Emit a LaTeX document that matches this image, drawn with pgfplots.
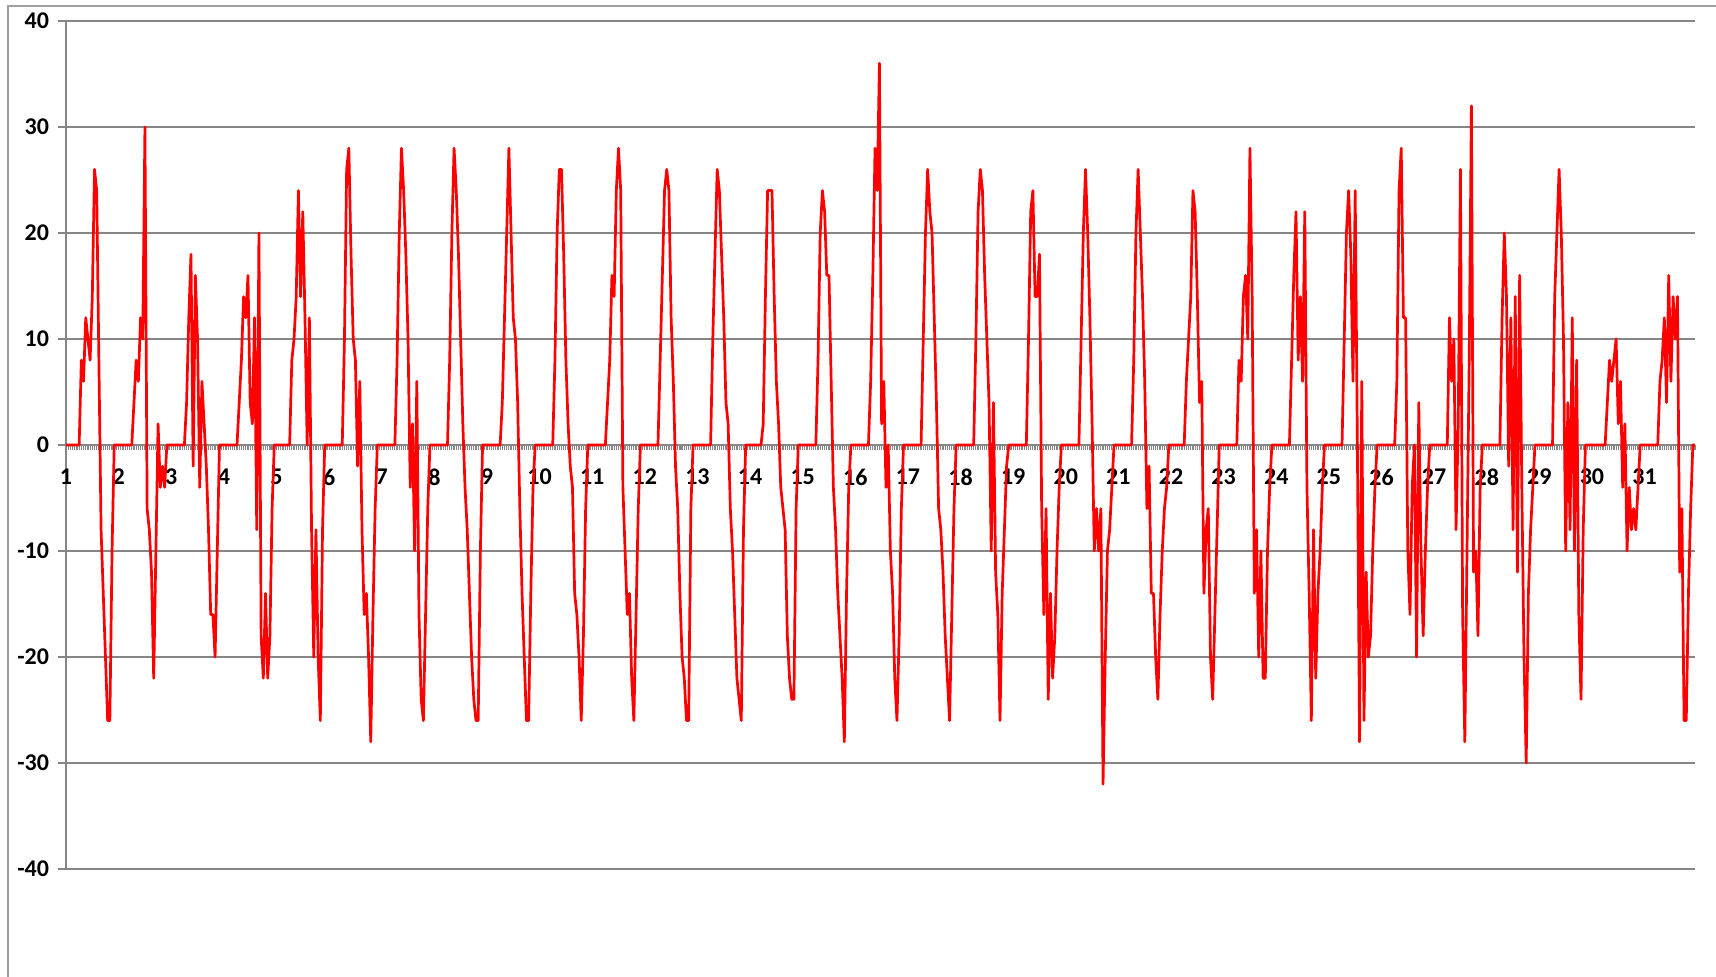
\documentclass[border=0pt]{standalone}
\usepackage{pgfplots}
\pgfplotsset{compat=1.18}
\usepackage{fontspec}
\setmainfont{Carlito}
\definecolor{gridgray}{RGB}{134,134,134}
\definecolor{seriesred}{RGB}{255,0,0}

\begin{document}
\begin{tikzpicture}
\path[use as bounding box] (0,0) rectangle (858pt,488.5pt);
% chart area frame
\draw[gridgray!80, line width=0.8pt] (4pt,0) -- (4pt,485.5pt) -- (860pt,485.5pt);
\begin{axis}[
  at={(33pt,54pt)}, anchor=south west,
  scale only axis, width=814.5pt, height=424pt,
  xmin=0, xmax=743, ymin=-40, ymax=40,
  enlargelimits=false, clip=false,
  axis x line=middle, axis y line=left,
  axis line style={-, draw=gridgray, line width=1pt},
  hide obscured x ticks=false, hide obscured y ticks=false,
  xtick={0,24,...,720},
  xticklabels={1,2,3,4,5,6,7,8,9,10,11,12,13,14,15,16,17,18,19,20,21,22,23,24,25,26,27,28,29,30,31},
  xtick style={draw=none},
  minor xtick={0,1,...,743},
  minor x tick style={draw=gridgray, line width=0.6pt},
  minor tick length=2.6pt,
  xtick align=outside, ytick align=outside,
  ytick={-40,-30,...,40},
  yticklabels={-40,-30,-20,-10,0,10,20,30,40},
  ytick style={draw=gridgray, line width=1pt},
  major tick length=4pt,
  ymajorgrids, grid style={gridgray, line width=1pt},
  ticklabel style={font=\bfseries\fontsize{12pt}{14pt}\selectfont, text=black},
  xticklabel style={yshift=-4.5pt},
  yticklabel style={xshift=-1pt},
]
\addplot[seriesred, line width=1.35pt, line join=round, mark=none]
  table[row sep=\\, x expr=\coordindex, y index=0] {
v\\
0\\0\\0\\0\\0\\0\\0\\8\\6\\12\\10\\8\\14\\26\\24\\8\\-8\\-14\\-20\\-26\\-26\\-10\\0\\0\\
0\\0\\0\\0\\0\\0\\0\\4\\8\\6\\12\\10\\30\\-6\\-8\\-12\\-22\\-10\\2\\-4\\-2\\-4\\0\\0\\
0\\0\\0\\0\\0\\0\\0\\4\\12\\18\\-2\\16\\10\\-4\\6\\2\\-2\\-8\\-16\\-16\\-20\\-10\\0\\0\\
0\\0\\0\\0\\0\\0\\0\\4\\8\\14\\12\\16\\4\\2\\12\\-8\\20\\-18\\-22\\-14\\-22\\-18\\-6\\0\\
0\\0\\0\\0\\0\\0\\0\\8\\10\\14\\24\\14\\22\\12\\0\\12\\-8\\-20\\-8\\-20\\-26\\-8\\0\\0\\
0\\0\\0\\0\\0\\0\\0\\10\\26\\28\\18\\10\\8\\-2\\6\\-8\\-16\\-14\\-20\\-28\\-16\\-6\\0\\0\\
0\\0\\0\\0\\0\\0\\0\\8\\20\\28\\24\\18\\10\\-4\\2\\-10\\6\\-16\\-24\\-26\\-16\\-6\\0\\0\\
0\\0\\0\\0\\0\\0\\0\\8\\20\\28\\24\\18\\10\\2\\-4\\-8\\-14\\-20\\-24\\-26\\-26\\-10\\0\\0\\
0\\0\\0\\0\\0\\0\\0\\4\\12\\20\\28\\20\\12\\10\\4\\-6\\-14\\-20\\-26\\-26\\-14\\-4\\0\\0\\
0\\0\\0\\0\\0\\0\\0\\8\\20\\26\\26\\18\\8\\2\\-2\\-4\\-14\\-16\\-20\\-26\\-18\\-6\\0\\0\\
0\\0\\0\\0\\0\\0\\0\\4\\8\\16\\14\\24\\28\\24\\-4\\-10\\-16\\-14\\-22\\-26\\-16\\-6\\0\\0\\
0\\0\\0\\0\\0\\0\\0\\8\\16\\24\\26\\24\\12\\6\\-2\\-6\\-14\\-20\\-22\\-26\\-26\\-6\\0\\0\\
0\\0\\0\\0\\0\\0\\0\\10\\18\\26\\24\\18\\12\\4\\2\\-6\\-10\\-16\\-22\\-24\\-26\\-8\\0\\0\\
0\\0\\0\\0\\0\\0\\2\\14\\24\\24\\24\\14\\6\\2\\-4\\-6\\-8\\-18\\-22\\-24\\-24\\-6\\0\\0\\
0\\0\\0\\0\\0\\0\\0\\8\\20\\24\\22\\16\\16\\6\\-4\\-8\\-14\\-18\\-22\\-28\\-14\\-4\\0\\0\\
0\\0\\0\\0\\0\\0\\0\\6\\16\\28\\24\\36\\2\\6\\-4\\0\\-10\\-14\\-22\\-26\\-18\\-6\\0\\0\\
0\\0\\0\\0\\0\\0\\0\\10\\20\\26\\22\\20\\12\\4\\-6\\-8\\-12\\-18\\-22\\-26\\-16\\-6\\0\\0\\
0\\0\\0\\0\\0\\0\\0\\10\\22\\26\\24\\16\\10\\4\\-10\\4\\-12\\-16\\-26\\-14\\-8\\-2\\0\\0\\
0\\0\\0\\0\\0\\0\\0\\10\\22\\24\\14\\14\\18\\-6\\-16\\-6\\-24\\-14\\-22\\-18\\-10\\-4\\0\\0\\
0\\0\\0\\0\\0\\0\\0\\10\\20\\26\\20\\12\\2\\-10\\-6\\-10\\-6\\-32\\-20\\-10\\-8\\-4\\0\\0\\
0\\0\\0\\0\\0\\0\\0\\8\\20\\26\\20\\14\\6\\-6\\-2\\-14\\-14\\-20\\-24\\-16\\-10\\-6\\-4\\0\\
0\\0\\0\\0\\0\\0\\0\\6\\10\\14\\24\\22\\14\\4\\6\\-14\\-8\\-6\\-20\\-24\\-16\\-8\\0\\0\\
0\\0\\0\\0\\0\\0\\0\\8\\6\\14\\16\\10\\28\\14\\-14\\-8\\-20\\-10\\-22\\-22\\-10\\-4\\0\\0\\
0\\0\\0\\0\\0\\0\\0\\8\\16\\22\\8\\14\\6\\22\\-4\\-14\\-26\\-8\\-22\\-14\\-10\\-4\\0\\0\\
0\\0\\0\\0\\0\\0\\0\\10\\20\\24\\18\\6\\24\\0\\-28\\6\\-26\\-12\\-20\\-18\\-10\\-4\\0\\0\\
0\\0\\0\\0\\0\\0\\0\\6\\24\\28\\12\\12\\-10\\-16\\-4\\0\\-20\\4\\-10\\-18\\-10\\-4\\0\\0\\
0\\0\\0\\0\\0\\0\\0\\12\\6\\10\\-8\\2\\26\\-16\\-28\\-10\\8\\32\\-12\\-10\\-18\\-4\\0\\0\\
0\\0\\0\\0\\0\\0\\0\\12\\20\\14\\-2\\12\\-8\\14\\-12\\16\\-4\\-20\\-30\\-14\\-8\\-4\\0\\0\\
0\\0\\0\\0\\0\\0\\0\\14\\20\\26\\20\\10\\-10\\4\\-8\\12\\-10\\8\\-16\\-24\\-8\\0\\0\\0\\
0\\0\\0\\0\\0\\0\\0\\4\\8\\6\\8\\10\\2\\6\\-4\\2\\-10\\-4\\-8\\-6\\-8\\-4\\0\\0\\
0\\0\\0\\0\\0\\0\\0\\6\\8\\12\\4\\16\\6\\14\\10\\14\\-12\\-6\\-26\\-26\\-14\\-6\\0\\0\\
};
\end{axis}
\end{tikzpicture}
\end{document}
